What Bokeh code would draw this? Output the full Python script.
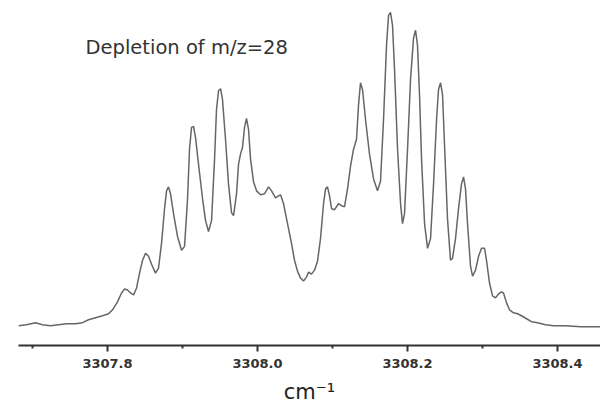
from bokeh.plotting import figure
from bokeh.models import Range1d, FixedTicker, PrintfTickFormatter, Label
from bokeh.embed import file_html
from bokeh.resources import INLINE

# wavenumber (cm^-1)
wavenumber = [
    3307.6813, 3307.692, 3307.704, 3307.7133, 3307.724, 3307.7347, 3307.7453, 3307.7573,
    3307.7667, 3307.7747, 3307.784, 3307.7933, 3307.8013, 3307.8067, 3307.8133, 3307.8187,
    3307.8227, 3307.8267, 3307.8307, 3307.8347, 3307.8387, 3307.8427, 3307.8467, 3307.8507,
    3307.8547, 3307.8587, 3307.864, 3307.868, 3307.872, 3307.876, 3307.8787, 3307.8813,
    3307.884, 3307.888, 3307.8933, 3307.8987, 3307.9027, 3307.9067, 3307.9093, 3307.912,
    3307.9147, 3307.9173, 3307.9213, 3307.9267, 3307.9307, 3307.9347, 3307.9387, 3307.9427,
    3307.9453, 3307.948, 3307.9507, 3307.9533, 3307.9573, 3307.9613, 3307.9653, 3307.968,
    3307.972, 3307.9747, 3307.9773, 3307.98, 3307.9827, 3307.9853, 3307.988, 3307.9907,
    3307.9947, 3307.9987, 3308.004, 3308.0093, 3308.0147, 3308.0187, 3308.024, 3308.028,
    3308.0307, 3308.0347, 3308.04, 3308.0453, 3308.0493, 3308.0533, 3308.0573, 3308.0613,
    3308.0653, 3308.068, 3308.072, 3308.076, 3308.08, 3308.084, 3308.088, 3308.0907,
    3308.0933, 3308.096, 3308.0987, 3308.1027, 3308.108, 3308.112, 3308.116, 3308.12,
    3308.124, 3308.128, 3308.132, 3308.1347, 3308.1373, 3308.14, 3308.144, 3308.1493,
    3308.1547, 3308.16, 3308.164, 3308.168, 3308.172, 3308.1747, 3308.1773, 3308.18,
    3308.1827, 3308.1867, 3308.1907, 3308.1933, 3308.196, 3308.2, 3308.204, 3308.208,
    3308.2107, 3308.2133, 3308.216, 3308.2187, 3308.2227, 3308.2267, 3308.2307, 3308.2347,
    3308.2387, 3308.2413, 3308.244, 3308.2467, 3308.2493, 3308.2533, 3308.2573, 3308.26,
    3308.264, 3308.268, 3308.272, 3308.2747, 3308.2773, 3308.28, 3308.284, 3308.2867,
    3308.2907, 3308.2947, 3308.2987, 3308.3027, 3308.3053, 3308.3093, 3308.3133, 3308.3173,
    3308.3213, 3308.3253, 3308.328, 3308.332, 3308.336, 3308.3413, 3308.3467, 3308.352,
    3308.3587, 3308.3653, 3308.3733, 3308.384, 3308.3947, 3308.4107, 3308.4307, 3308.4573,
]

# depletion signal (arbitrary units)
signal = [
    0, 1, 3, 1, 0, 1, 2, 2,
    3, 6, 8, 10, 12, 16, 24, 33,
    37, 36, 33, 31, 38, 53, 66, 73,
    70, 62, 53, 58, 83, 118, 136, 140,
    133, 113, 90, 76, 80, 128, 178, 200,
    201, 190, 163, 128, 106, 95, 106, 168,
    218, 237, 239, 228, 188, 143, 114, 111,
    133, 163, 173, 180, 200, 209, 198, 168,
    145, 136, 132, 133, 140, 136, 129, 131,
    132, 123, 103, 83, 66, 55, 48, 45,
    49, 54, 52, 56, 65, 88, 123, 138,
    140, 131, 118, 117, 123, 121, 120, 138,
    161, 178, 188, 223, 245, 238, 208, 173,
    148, 136, 146, 208, 283, 313, 316, 303,
    258, 178, 123, 103, 113, 178, 248, 290,
    298, 283, 233, 168, 103, 78, 88, 143,
    208, 238, 245, 233, 183, 108, 66, 68,
    88, 118, 143, 150, 138, 103, 60, 50,
    56, 70, 78, 78, 66, 43, 30, 28,
    32, 34, 33, 23, 16, 13, 12, 10,
    7, 4, 3, 1, 0, 0, -1, -1,
]

major_ticks = [3307.8, 3308.0, 3308.2, 3308.4]
minor_ticks = [3307.7, 3307.9, 3308.1, 3308.3]
annotation = "Depletion of m/z=28"
x_label = "cm\u207b\u00b9"

p = figure(width=600, height=406, output_backend="svg", toolbar_location=None,
           x_range=Range1d(3307.6813, 3308.4573), y_range=Range1d(-20, 328),
           y_axis_location=None, min_border_left=18, min_border_right=0,
           min_border_top=0, min_border_bottom=58)
p.outline_line_color = None
p.xgrid.visible = False
p.ygrid.visible = False
p.background_fill_color = "white"
p.border_fill_color = "white"

p.line(wavenumber, signal, line_color="#666666", line_width=1.5)

ax = p.xaxis[0]
ax.ticker = FixedTicker(ticks=major_ticks, minor_ticks=minor_ticks)
ax.formatter = PrintfTickFormatter(format="%.1f")
ax.axis_line_color = "#333333"
ax.axis_line_width = 2
ax.major_tick_in = 0
ax.major_tick_out = 6
ax.major_tick_line_color = "#333333"
ax.major_tick_line_width = 2
ax.minor_tick_in = 0
ax.minor_tick_out = 3
ax.minor_tick_line_color = "#333333"
ax.minor_tick_line_width = 2
ax.major_label_text_font = "DejaVu Sans"
ax.major_label_text_font_style = "bold"
ax.major_label_text_font_size = "13px"
ax.major_label_text_color = "#333333"
ax.major_label_standoff = 7
ax.axis_label = x_label
ax.axis_label_text_font = "DejaVu Sans"
ax.axis_label_text_font_style = "normal"
ax.axis_label_text_font_size = "21px"
ax.axis_label_text_color = "#222222"
ax.axis_label_standoff = 9

p.add_layout(Label(x=3307.7707, y=281, text=annotation, text_font="DejaVu Sans",
                   text_font_size="19.5px", text_color="#333333",
                   text_baseline="alphabetic"))

open("out.html", "w").write(file_html(p, INLINE))
